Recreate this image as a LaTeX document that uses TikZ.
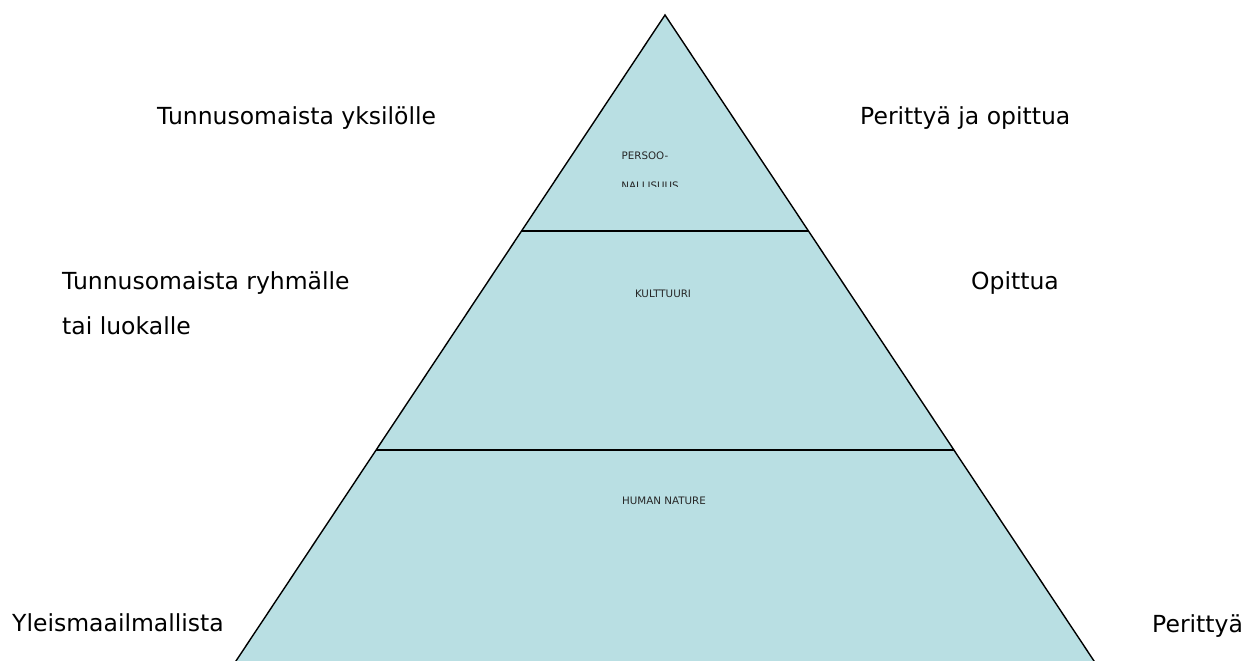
\documentclass[tikz,border=0pt]{standalone}
\usepackage{fontspec}
\setmainfont{DejaVu Sans}
\begin{document}
\begin{tikzpicture}[x=1pt,y=-1pt,
  side/.style={font=\fontsize{23.5}{28}\selectfont, anchor=base west, inner sep=0pt},
  level/.style={font=\fontsize{10.3}{12}\selectfont, inner sep=0pt, anchor=base, text=black!85},
  edge/.style={draw=black, line width=1.4pt}]
\definecolor{pyrfill}{RGB}{185,223,227}
\useasboundingbox (0,0) rectangle (1248,661);
\clip (0,0) rectangle (1248,661);

% pyramid corners and level boundaries
\coordinate (apex) at (665,15);
\coordinate (bl) at (224,679);
\coordinate (br) at (1106,679);
\coordinate (l1) at (521,231);
\coordinate (r1) at (809,231);
\coordinate (l2) at (376,450);
\coordinate (r2) at (954,450);

\fill[pyrfill] (apex) -- (br) -- (bl) -- cycle;
\draw[edge] (bl) -- (apex) -- (br);
\draw[edge, line width=1.7pt] (l1) -- (r1);
\draw[edge, line width=1.7pt] (l2) -- (r2);

% level labels; the text box of the top level cuts its second line
\begin{scope}
  \clip (560,130) rectangle (760,186);
  \node[level] (pers1) at (645,159) {PERSOO-};
  \node[level] (pers2) at (650,189) {NALLISUUS};
\end{scope}
\node[level] (kult) at (663,297) {KULTTUURI};
\node[level] (human) at (664,504) {HUMAN NATURE};

% left side
\node[side] (ta) at (157,124) {Tunnusomaista yksilölle};
\node[side] (tb) at (62,289) {Tunnusomaista ryhmälle};
\node[side] (tc) at (62,334) {tai luokalle};
\node[side] (td) at (12,631) {Yleismaailmallista};

% right side
\node[side] (pa) at (860,124) {Perittyä ja opittua};
\node[side] (pb) at (971,289) {Opittua};
\node[side] (pc) at (1152,632) {Perittyä};
\end{tikzpicture}
\end{document}
